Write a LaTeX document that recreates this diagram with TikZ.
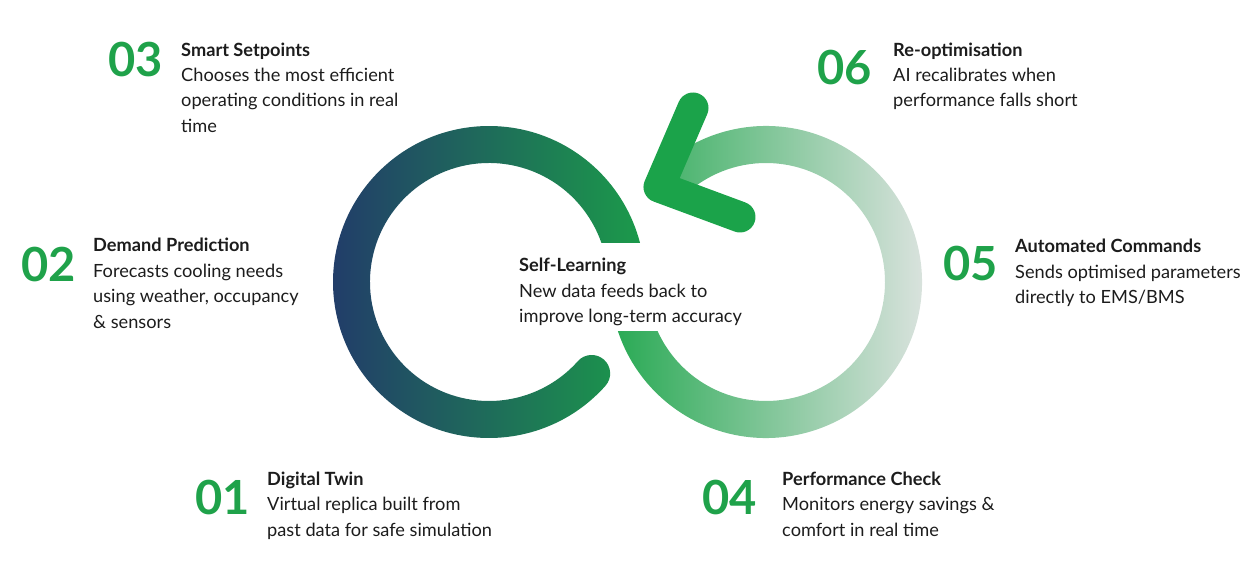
\documentclass[tikz,border=0pt]{standalone}
\usepackage{fontspec}
\setmainfont{Lato}
\definecolor{numgreen}{HTML}{1FA24A}
\definecolor{arrowgreen}{HTML}{1BA34A}
\definecolor{ringnavy}{HTML}{22386B}
\definecolor{ringgreen}{HTML}{1B9E49}
\definecolor{ringlight}{HTML}{2AAA55}
\definecolor{ringmid}{HTML}{62BE80}
\definecolor{ringpale}{HTML}{E2E5E4}
\definecolor{inkgray}{HTML}{1C1C1C}
\begin{document}
\begin{tikzpicture}[x=1pt, y=-1pt,
  num/.style={anchor=base west, inner sep=0pt, text=numgreen, font=\fontsize{47}{47}\selectfont\bfseries},
  % base of a multi-line node = baseline of its last line
  steptext/.style={anchor=base west, align=left, inner sep=0pt, text=inkgray, font=\fontsize{18.2}{25.5}\selectfont},
  arrowtip/.style={draw=arrowgreen, line width=31pt, line cap=round, line join=round}]
  \useasboundingbox (0,0) rectangle (1256,583);
  % Left ring: navy -> green, round end at lower right
  \shade[left color=ringnavy, right color=ringgreen]
    (489,282) ++(41.7:156) arc[start angle=41.7, end angle=375, radius=156]
    -- ++(195:37) arc[start angle=375, end angle=41.7, radius=119]
    arc[start angle=221.7, end angle=401.7, radius=18.5] -- cycle;
  % Right ring: green -> pale grey, ends under the arrow head
  \shade[left color=ringlight, middle color=ringmid, right color=ringpale]
    (766,282) ++(165:156) arc[start angle=165, end angle=-132, radius=156]
    -- ++(48:37) arc[start angle=-132, end angle=165, radius=119] -- cycle;
  % Arrow head
  \coordinate (headtop) at (693,108);
  \coordinate (headtip) at (659,187);
  \coordinate (headend) at (740,217);
  \draw[arrowtip] (headtop) -- (headtip) -- (headend);
  % Centre label cuts the rings
  \fill[white] (514,243) rectangle (752,331);
  \node[steptext] (tself) at (519,322.7) {\textbf{Self-Learning}\\New data feeds back to\\improve long-term accuracy};
  % Steps
  \node[num] (n01) at (195,514) {01};
  \node[steptext] (t01) at (267,536) {\textbf{Digital Twin}\\Virtual replica built from\\past data for safe simulation};
  \node[num] (n02) at (21,281.7) {02};
  \node[steptext] (t02) at (93,328.2) {\textbf{Demand Prediction}\\Forecasts cooling needs\\using weather, occupancy\\\& sensors};
  \node[num] (n03) at (108,77) {03};
  \node[steptext] (t03) at (181,132.5) {\textbf{Smart Setpoints}\\Chooses the most efficient\\operating conditions in real\\time};
  \node[num] (n04) at (702,514) {04};
  \node[steptext] (t04) at (782,536) {\textbf{Performance Check}\\Monitors energy savings \&\\comfort in real time};
  \node[num] (n05) at (943,280) {05};
  \node[steptext] (t05) at (1015,303.5) {\textbf{Automated Commands}\\Sends optimised parameters\\directly to EMS/BMS};
  \node[num] (n06) at (817,85) {06};
  \node[steptext] (t06) at (893,107) {\textbf{Re-optimisation}\\AI recalibrates when\\performance falls short};
\end{tikzpicture}
\end{document}
